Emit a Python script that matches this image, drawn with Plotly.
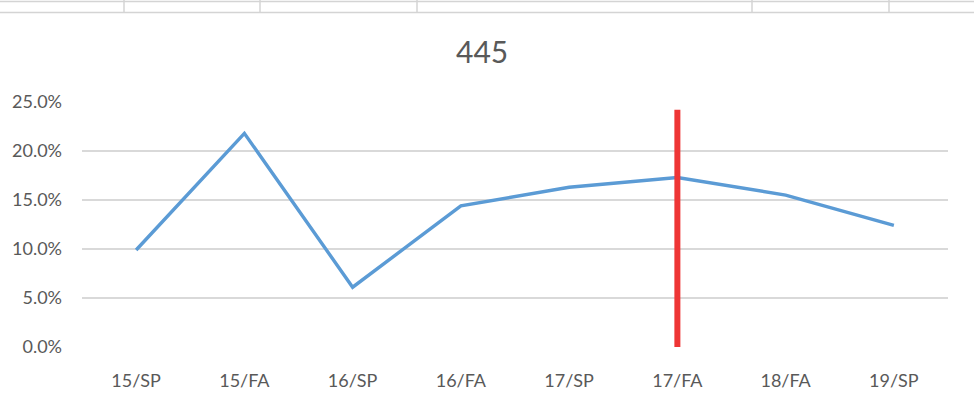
import plotly.graph_objects as go

# Term labels and the rate for each term
terms = ["15/SP", "15/FA", "16/SP", "16/FA", "17/SP", "17/FA", "18/FA", "19/SP"]
rates = [0.099, 0.218, 0.061, 0.144, 0.163, 0.173, 0.155, 0.124]

# Vertical marker placed at one term
marker_term = "17/FA"
marker_span = [0.0, 0.242]

y_ticks = [0.0, 0.05, 0.10, 0.15, 0.20, 0.25]

W, H = 974, 404
L, R, T, B = 82, 26, 102, 57
plot_w = W - L - R
plot_h = H - T - B

FONT = "Lato, 'Open Sans', sans-serif"
TEXT = "#595959"

fig = go.Figure()

fig.add_trace(go.Scatter(
    x=terms, y=rates, mode="lines",
    line=dict(color="#5B9BD5", width=3.4),
    hoverinfo="x+y", showlegend=False,
))

fig.add_trace(go.Scatter(
    x=[marker_term, marker_term], y=marker_span, mode="lines",
    line=dict(color="#EE3535", width=6),
    hoverinfo="skip", showlegend=False,
))

# Worksheet cell borders peeking above the chart area
shapes = []
def px_x(px):
    return (px - L) / plot_w
def px_y(py):
    return (H - B - py) / plot_h

for py in (1.5, 12.5):
    shapes.append(dict(type="line", xref="paper", yref="paper",
                       x0=px_x(0), x1=px_x(W), y0=px_y(py), y1=px_y(py),
                       line=dict(color="#D4D4D4", width=1.5), layer="above"))
for px in (124, 260, 417, 752, 889):
    shapes.append(dict(type="line", xref="paper", yref="paper",
                       x0=px_x(px), x1=px_x(px), y0=px_y(0), y1=px_y(13),
                       line=dict(color="#D4D4D4", width=1.5), layer="above"))

fig.update_layout(
    width=W, height=H, autosize=False,
    margin=dict(l=L, r=R, t=T, b=B, pad=0),
    paper_bgcolor="white", plot_bgcolor="white",
    font=dict(family=FONT, color=TEXT, size=18),
    title=dict(text="445", x=0.495, xanchor="center", xref="container",
               y=1 - 52 / H, yanchor="middle",
               font=dict(family=FONT, size=30, color=TEXT)),
    xaxis=dict(
        type="category", categoryorder="array", categoryarray=terms,
        range=[-0.5, len(terms) - 0.5],
        showgrid=False, zeroline=False, showline=False, ticks="",
        tickfont=dict(size=18, color=TEXT), ticklabelstandoff=21,
        fixedrange=True,
    ),
    yaxis=dict(
        range=[0, 0.25], tickvals=y_ticks, tickformat=".1%",
        showgrid=True, gridcolor="#D9D9D9", gridwidth=1.5,
        zeroline=False, showline=False, ticks="",
        tickfont=dict(size=18, color=TEXT), ticklabelstandoff=19,
        fixedrange=True,
    ),
    shapes=shapes,
)

fig.write_html("out.html")
